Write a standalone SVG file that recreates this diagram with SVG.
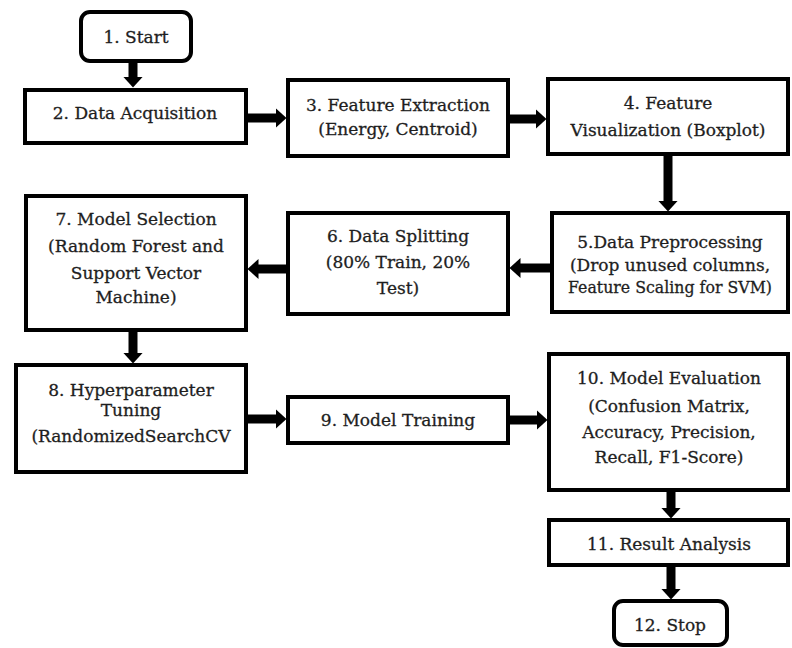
<svg xmlns="http://www.w3.org/2000/svg" width="792" height="648" viewBox="0 0 792 648">
<defs>
<style>
.box{fill:#fff;stroke:#000;stroke-width:4}
.t{font-family:"DejaVu Serif","Liberation Serif",serif;font-size:17px;fill:#1e1e1e;stroke:#1e1e1e;stroke-width:0.3;text-anchor:middle}
.c{stroke:#000;stroke-width:9;fill:none}
</style>
<marker id="ah" viewBox="0 0 11 20" refX="0.5" refY="10" markerWidth="11" markerHeight="20" markerUnits="userSpaceOnUse" orient="auto">
<path d="M0,0 L11,10 L0,20 z" fill="#000"/>
</marker>
</defs>
<rect width="792" height="648" fill="#fff"/>
<g id="connectors">
<line class="c" x1="133" y1="61" x2="133" y2="77" marker-end="url(#ah)"/>
<line class="c" x1="246" y1="118" x2="276" y2="118" marker-end="url(#ah)"/>
<line class="c" x1="508" y1="119" x2="536" y2="119" marker-end="url(#ah)"/>
<line class="c" x1="668" y1="154" x2="668" y2="201" marker-end="url(#ah)"/>
<line class="c" x1="552" y1="268" x2="520" y2="268" marker-end="url(#ah)"/>
<line class="c" x1="288" y1="269" x2="258" y2="269" marker-end="url(#ah)"/>
<line class="c" x1="133" y1="330" x2="133" y2="353" marker-end="url(#ah)"/>
<line class="c" x1="246" y1="419" x2="276" y2="419" marker-end="url(#ah)"/>
<line class="c" x1="508" y1="420" x2="537" y2="420" marker-end="url(#ah)"/>
<line class="c" x1="671" y1="490" x2="671" y2="508" marker-end="url(#ah)"/>
<line class="c" x1="671" y1="565" x2="671" y2="589" marker-end="url(#ah)"/>
</g>
<g id="n1"><rect class="box" x="81" y="12" width="110" height="49" rx="9"/><text class="t" x="136" y="43">1. Start</text></g>
<g id="n2"><rect class="box" x="25" y="90" width="221" height="53"/><text class="t" x="135" y="119">2. Data Acquisition</text></g>
<g id="n3"><rect class="box" x="288" y="80" width="220" height="76"/><text class="t" x="398" y="111">3. Feature Extraction</text><text class="t" x="398" y="135">(Energy, Centroid)</text></g>
<g id="n4"><rect class="box" x="548" y="79" width="240" height="75"/><text class="t" x="668" y="109">4. Feature</text><text class="t" x="668" y="136">Visualization (Boxplot)</text></g>
<g id="n5"><rect class="box" x="552" y="213" width="236" height="99"/><text class="t" x="670" y="248">5.Data Preprocessing</text><text class="t" x="670" y="271">(Drop unused columns,</text><text class="t" x="670" y="293" textLength="204" lengthAdjust="spacingAndGlyphs">Feature Scaling for SVM)</text></g>
<g id="n6"><rect class="box" x="288" y="213" width="220" height="101"/><text class="t" x="398" y="242">6. Data Splitting</text><text class="t" x="398" y="268">(80% Train, 20%</text><text class="t" x="398" y="294">Test)</text></g>
<g id="n7"><rect class="box" x="26" y="196" width="220" height="134"/><text class="t" x="136" y="225">7. Model Selection</text><text class="t" x="136" y="252">(Random Forest and</text><text class="t" x="136" y="279">Support Vector</text><text class="t" x="136" y="303">Machine)</text></g>
<g id="n8"><rect class="box" x="16" y="365" width="230" height="107"/><text class="t" x="131" y="396">8. Hyperparameter</text><text class="t" x="131" y="416">Tuning</text><text class="t" x="131" y="442">(RandomizedSearchCV</text></g>
<g id="n9"><rect class="box" x="288" y="397" width="220" height="46"/><text class="t" x="398" y="426">9. Model Training</text></g>
<g id="n10"><rect class="box" x="549" y="354" width="239" height="136"/><text class="t" x="669" y="384">10. Model Evaluation</text><text class="t" x="669" y="412">(Confusion Matrix,</text><text class="t" x="669" y="438">Accuracy, Precision,</text><text class="t" x="669" y="463">Recall, F1-Score)</text></g>
<g id="n11"><rect class="box" x="549" y="520" width="239" height="45"/><text class="t" x="669" y="550">11. Result Analysis</text></g>
<g id="n12"><rect class="box" x="614" y="601" width="113" height="44" rx="9"/><text class="t" x="670" y="631">12. Stop</text></g>
</svg>
